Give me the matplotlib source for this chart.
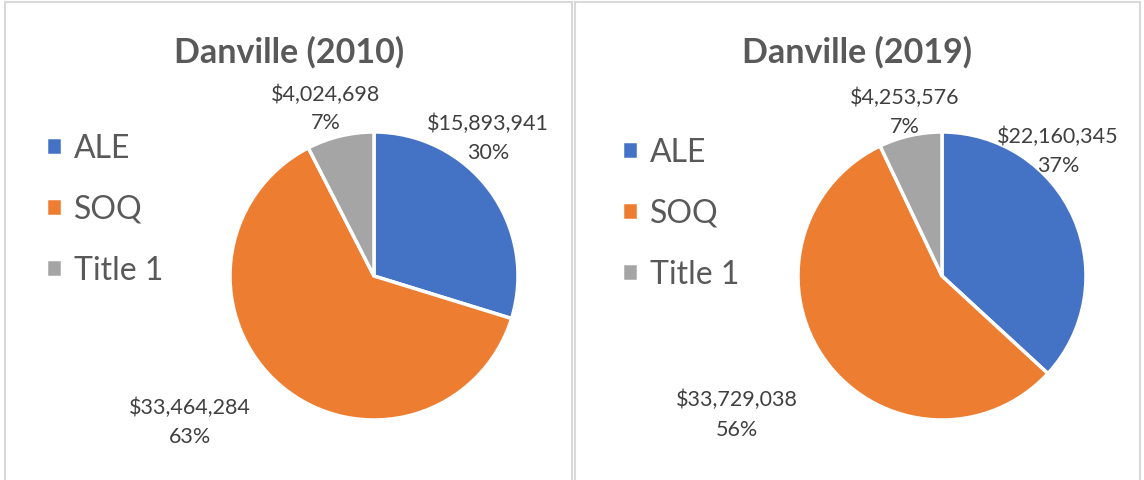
import matplotlib
matplotlib.use("Agg")
import matplotlib.pyplot as plt
from matplotlib.patches import Rectangle

categories = ["ALE", "SOQ", "Title 1"]
titles = ["Danville (2010)", "Danville (2019)"]
values_2010 = [15893941, 33464284, 4024698]
values_2019 = [22160345, 33729038, 4253576]
pct_2010 = ["30%", "63%", "7%"]
pct_2019 = ["37%", "56%", "7%"]
colors = ["#4472C4", "#ED7D31", "#A5A5A5"]

W, H = 1144, 481
plt.rcParams["font.family"] = ["Lato", "DejaVu Sans"]


def fx(x):
    return x / W


def fy(y):
    return 1 - y / H


fig = plt.figure(figsize=(W / 100, H / 100), dpi=100)

# panel borders
for x0, x1 in [(5, 572), (575, 1140)]:
    fig.patches.append(Rectangle((fx(x0), fy(490)), fx(x1) - fx(x0), fy(3) - fy(490),
                                 transform=fig.transFigure, fill=False,
                                 edgecolor="#D9D9D9", linewidth=1.5))

panels = [
    dict(values=values_2010, pct=pct_2010, cx=374, title_x=289, leg_x=46, leg_y=210,
         label_pos=[(488, 124, 153), (190, 408, 437), (326, 95, 123)]),
    dict(values=values_2019, pct=pct_2019, cx=942, title_x=857, leg_x=622, leg_y=214,
         label_pos=[(1058, 137, 166), (737, 400, 430), (905, 98, 127)]),
]

r = 144
cy = 277
for title, p in zip(titles, panels):
    ax = fig.add_axes([fx(p["cx"] - r), fy(cy + r), 2 * r / W, 2 * r / H])
    wedges, _ = ax.pie(p["values"], colors=colors, startangle=90, counterclock=False,
                       radius=1, wedgeprops=dict(edgecolor="white", linewidth=2.5))
    ax.set_xlim(-1, 1)
    ax.set_ylim(-1, 1)
    ax.set_aspect("equal")
    ax.axis("off")

    for v, pc, (lx, ly1, ly2) in zip(p["values"], p["pct"], p["label_pos"]):
        fig.text(fx(lx), fy(ly1), "${:,}".format(v), ha="center", va="center",
                 fontsize=15.5, color="#404040")
        fig.text(fx(lx), fy(ly2), pc, ha="center", va="center",
                 fontsize=15.5, color="#404040")

    fig.text(fx(p["title_x"]), fy(52), title, ha="center", va="center",
             fontsize=24.5, fontweight="bold", color="#595959")

    fig.legend(wedges, categories, loc="center left",
               bbox_to_anchor=(fx(p["leg_x"]), fy(p["leg_y"])),
               bbox_transform=fig.transFigure, frameon=False, fontsize=23,
               labelcolor="#595959", borderpad=0, borderaxespad=0,
               handlelength=0.5, handleheight=0.5, handletextpad=0.38,
               labelspacing=0.97)

fig.savefig("out.png", dpi=100, facecolor="white")
